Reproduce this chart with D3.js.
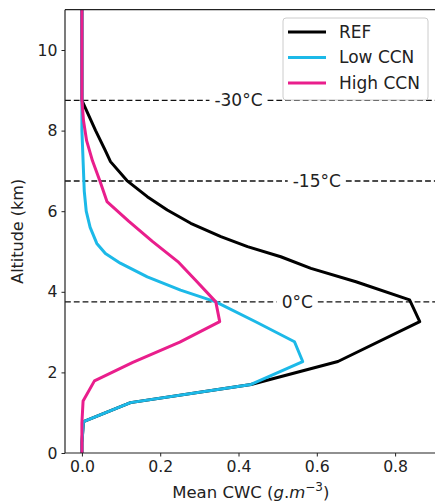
<!DOCTYPE html>
<html>
<head>
<meta charset="utf-8">
<script src="https://cdn.jsdelivr.net/npm/d3@7"></script>
<style>
  body { margin: 0; background: #fff; }
  svg text { font-family: "DejaVu Sans", sans-serif; fill: #222; }
</style>
</head>
<body>
<svg class="profile" width="435" height="504"></svg>
<script>
// each profile: altitude (km) and mean CWC (g m-3)
var refAlt  = [0, 0.25, 0.78, 1.25, 1.7, 2.27, 3.26, 3.8, 4.25, 4.58, 4.87, 5.12,
               5.37, 5.7, 6.03, 6.36, 6.76, 7.23, 7.52, 8.0, 8.75, 11];
var refCwc  = [0, 0, 0.004, 0.124, 0.432, 0.654, 0.863, 0.837, 0.70, 0.585, 0.508, 0.423,
               0.355, 0.278, 0.218, 0.167, 0.115, 0.073, 0.059, 0.035, 0, 0];

var lowAlt  = [0, 0.25, 0.78, 1.25, 1.7, 2.27, 2.76, 3.25, 3.75, 4.04, 4.37, 4.71, 4.95,
               5.2, 5.6, 6.0, 6.5, 7.5, 8.0, 11];
var lowCwc  = [0, 0, 0.004, 0.124, 0.432, 0.564, 0.543, 0.445, 0.342, 0.252, 0.167, 0.098, 0.06,
               0.038, 0.021, 0.011, 0.006, 0.002, 0, 0];

var highAlt = [0, 0.25, 0.75, 1.29, 1.79, 2.25, 2.75, 3.26, 3.75, 4.25, 4.75, 5.25, 5.75,
               6.24, 6.75, 7.25, 7.75, 8.25, 8.75, 11];
var highCwc = [0, 0, 0, 0.003, 0.032, 0.13, 0.25, 0.352, 0.342, 0.294, 0.245, 0.18, 0.12,
               0.064, 0.046, 0.027, 0.012, 0.004, 0, 0];

var seriesNames = ["REF", "Low CCN", "High CCN"];
var seriesColors = ["#000000", "#1cb9e8", "#e91e8c"];

// isotherm levels
var isoLabels = ["-30\u00b0C", "-15\u00b0C", "0\u00b0C"];
var isoAltitudes = [8.75, 6.75, 3.75];
var isoLabelAt = [0.40, 0.60, 0.55];

var xTicks = [0, 0.2, 0.4, 0.6, 0.8];
var yTicks = [0, 2, 4, 6, 8, 10];

var svg = d3.select("svg.profile"),
    plotLeft = 65, plotTop = 9.7, plotRight = 436.6, plotBottom = 453;

var x = d3.scaleLinear().domain([-0.0432, 0.906]).range([plotLeft, plotRight]),
    y = d3.scaleLinear().domain([0, 11]).range([plotBottom, plotTop]);

var profiles = [[refAlt, refCwc], [lowAlt, lowCwc], [highAlt, highCwc]].map(function(p, i) {
    return {
        name: seriesNames[i],
        color: seriesColors[i],
        values: p[1].map(function(v, j) { return {cwc: v, alt: p[0][j]}; })
    };
});

var line = d3.line()
    .x(function(d) { return x(d.cwc); })
    .y(function(d) { return y(d.alt); });

// isotherm dashed lines with inline labels
isoLabels.forEach(function(lab, i) {
    var yy = y(isoAltitudes[i]);
    var t = svg.append("text")
        .attr("x", x(isoLabelAt[i]))
        .attr("y", yy)
        .attr("dy", "0.35em")
        .attr("text-anchor", "middle")
        .style("font-size", "17px")
        .text(lab);
    var bb = t.node().getBBox();
    [[plotLeft, bb.x - 5], [bb.x + bb.width + 5, plotRight]].forEach(function(seg) {
        svg.append("line")
            .attr("x1", seg[0]).attr("x2", seg[1])
            .attr("y1", yy).attr("y2", yy)
            .style("stroke", "#111")
            .style("stroke-width", 1.4)
            .style("stroke-dasharray", "5.8,3");
    });
});

svg.selectAll(".profile-line")
    .data(profiles)
    .enter()
    .append("path")
    .attr("class", "profile-line")
    .attr("d", function(d) { return line(d.values); })
    .style("fill", "none")
    .style("stroke", function(d) { return d.color; })
    .style("stroke-width", 3)
    .style("stroke-linejoin", "round");

// axes
var xAxis = svg.append("g")
    .attr("transform", "translate(0," + plotBottom + ")")
    .call(d3.axisBottom(x).tickValues(xTicks).tickFormat(d3.format(".1f")).tickSize(3.5).tickPadding(4));
var yAxis = svg.append("g")
    .attr("transform", "translate(" + plotLeft + ",0)")
    .call(d3.axisLeft(y).tickValues(yTicks).tickFormat(d3.format("d")).tickSize(3.5).tickPadding(4));

[xAxis, yAxis].forEach(function(a) {
    a.select(".domain").remove();
    a.selectAll(".tick line").style("stroke", "#222").style("stroke-width", 1);
    a.selectAll(".tick text")
        .style("font-size", "15.7px")
        .style("font-family", "'DejaVu Sans', sans-serif")
        .style("fill", "#222");
});

// spines
svg.append("line").attr("x1", plotLeft).attr("x2", plotLeft).attr("y1", plotTop).attr("y2", plotBottom)
    .style("stroke", "#222").style("stroke-width", 1.2);
svg.append("line").attr("x1", plotLeft).attr("x2", plotRight).attr("y1", plotBottom).attr("y2", plotBottom)
    .style("stroke", "#222").style("stroke-width", 1.2);
svg.append("line").attr("x1", plotLeft).attr("x2", plotRight).attr("y1", plotTop).attr("y2", plotTop)
    .style("stroke", "#222").style("stroke-width", 1.2);

// axis labels
svg.append("text")
    .attr("transform", "translate(17," + ((plotTop + plotBottom) / 2) + ") rotate(-90)")
    .attr("text-anchor", "middle")
    .attr("dy", "0.35em")
    .style("font-size", "16px")
    .text("Altitude (km)");

var xl = svg.append("text")
    .attr("x", (plotLeft + plotRight) / 2)
    .attr("y", 498)
    .attr("text-anchor", "middle")
    .style("font-size", "16.5px");
xl.append("tspan").text("Mean CWC (");
xl.append("tspan").style("font-style", "italic").text("g");
xl.append("tspan").text(".");
xl.append("tspan").style("font-style", "italic").text("m");
xl.append("tspan").attr("dy", -7).style("font-size", "12px").text("\u22123");
xl.append("tspan").attr("dy", 7).text(")");

// legend
var lg = svg.append("g").attr("transform", "translate(283,18)");
lg.append("rect")
    .attr("width", 145).attr("height", 82)
    .attr("rx", 3)
    .style("fill", "#fff").style("fill-opacity", 0.8)
    .style("stroke", "#ccc").style("stroke-width", 1);
profiles.forEach(function(p, i) {
    var yy = 14 + i * 25.5;
    lg.append("line")
        .attr("x1", 5).attr("x2", 43)
        .attr("y1", yy).attr("y2", yy)
        .style("stroke", p.color).style("stroke-width", 3);
    lg.append("text")
        .attr("x", 56).attr("y", yy)
        .attr("dy", "0.35em")
        .style("font-size", "17px")
        .text(p.name);
});
</script>
</body>
</html>
